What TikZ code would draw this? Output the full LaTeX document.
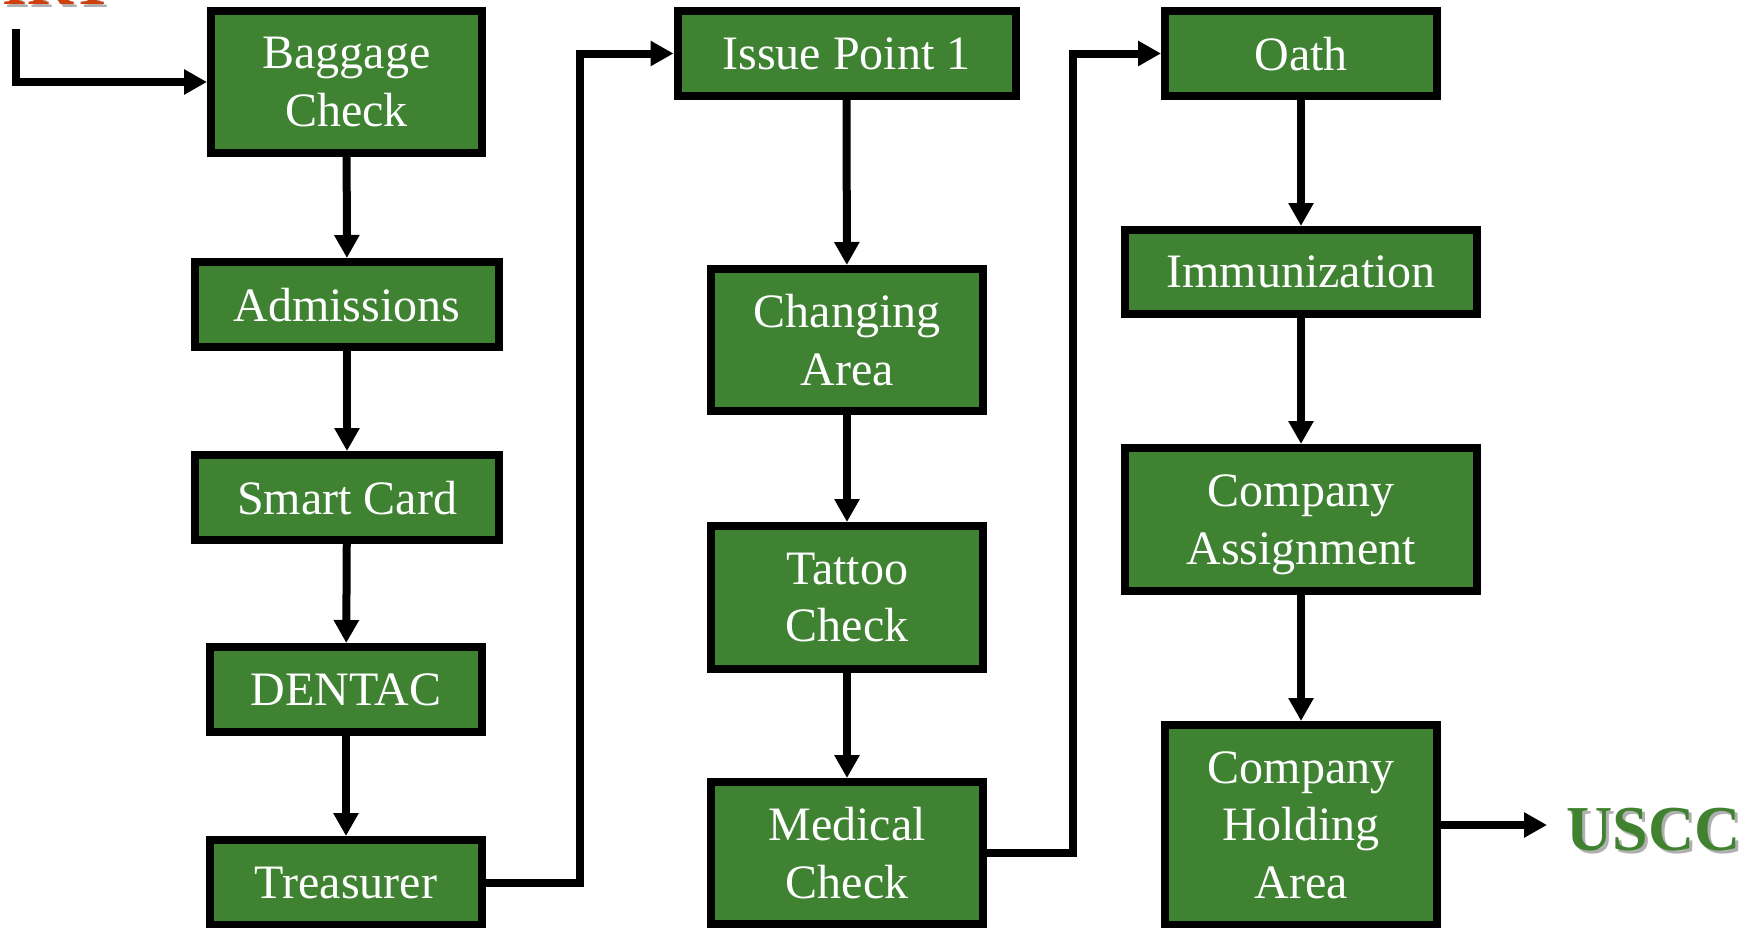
\documentclass[tikz,border=0pt]{standalone}
\usepackage{fontspec}
\setmainfont{Liberation Serif}
\usetikzlibrary{arrows.meta}
\definecolor{boxgreen}{RGB}{62,130,50}
\definecolor{labelgreen}{RGB}{64,130,48}
\definecolor{irtred}{RGB}{208,64,14}
\definecolor{shadowgray}{RGB}{175,175,175}

\begin{document}
\begin{tikzpicture}[x=1pt,y=-1pt,
  stage/.style={draw=black, line width=8pt, fill=boxgreen, text=white,
    inner sep=0pt, outer sep=4pt, align=center, text depth=-4pt,
    font=\fontsize{48}{57.5}\selectfont},
  flow/.style={line width=8pt, -{Triangle[width=24pt,length=23pt]}},
  endlabel/.style={inner sep=0pt, anchor=base west,
    font=\bfseries\fontsize{64}{64}\selectfont}
]
\useasboundingbox (0,0) rectangle (1756,927);
\begin{scope}
\clip (0,0) rectangle (1756,927);

% start and end labels, each with a soft grey drop shadow
\node[endlabel, text=shadowgray] (irtshadow) at (5,7) {IRT};
\node[endlabel, text=irtred] (irt) at (2,4) {IRT};
\node[endlabel, text=shadowgray] (usccshadow) at (1569,853) {USCC};
\node[endlabel, text=labelgreen] (uscc) at (1566,850) {USCC};

% first column
\node[stage, minimum width=271pt, minimum height=142pt] (baggage)    at (346.5,82)  {Baggage\\Check};
\node[stage, minimum width=304pt, minimum height=85pt]  (admissions) at (347,304.5) {Admissions};
\node[stage, minimum width=304pt, minimum height=85pt]  (smart)      at (347,497.5) {Smart Card};
\node[stage, minimum width=272pt, minimum height=85pt]  (dentac)     at (346,689.5) {DENTAC};
\node[stage, minimum width=272pt, minimum height=85pt]  (treasurer)  at (346,882.5) {Treasurer};

% second column
\node[stage, minimum width=338pt, minimum height=85pt]  (issue)    at (846.5,53.5) {Issue Point 1};
\node[stage, minimum width=272pt, minimum height=142pt] (changing) at (847,340)    {Changing\\Area};
\node[stage, minimum width=272pt, minimum height=143pt] (tattoo)   at (847,597.5)  {Tattoo\\Check};
\node[stage, minimum width=272pt, minimum height=142pt] (medical)  at (847,853)    {Medical\\Check};

% third column
\node[stage, minimum width=272pt, minimum height=85pt]  (oath)    at (1301,53.5)  {Oath};
\node[stage, minimum width=352pt, minimum height=84pt]  (immun)   at (1301,272)   {Immunization};
\node[stage, minimum width=352pt, minimum height=143pt] (assign)  at (1301,519.5) {Company\\Assignment};
\node[stage, minimum width=272pt, minimum height=200pt] (holding) at (1301,825)   {Company\\Holding\\Area};

% free ends and bends of the connectors
\coordinate (entry) at (16,29);
\coordinate (jogA)  at (580,53.5);
\coordinate (jogB)  at (1073,53.5);
\coordinate (exit)  at (1547,825);

% connectors
\draw[flow] (entry) |- (baggage.west);
\draw[flow] (baggage) -- (admissions);
\draw[flow] (admissions) -- (smart);
\draw[flow] (smart) -- (dentac);
\draw[flow] (dentac) -- (treasurer);
\draw[flow] (treasurer.east) -| (jogA) -- (issue.west);
\draw[flow] (issue) -- (changing);
\draw[flow] (changing) -- (tattoo);
\draw[flow] (tattoo) -- (medical);
\draw[flow] (medical.east) -| (jogB) -- (oath.west);
\draw[flow] (oath) -- (immun);
\draw[flow] (immun) -- (assign);
\draw[flow] (assign) -- (holding);
\draw[flow] (holding.east) -- (exit);
\end{scope}
\end{tikzpicture}
\end{document}
